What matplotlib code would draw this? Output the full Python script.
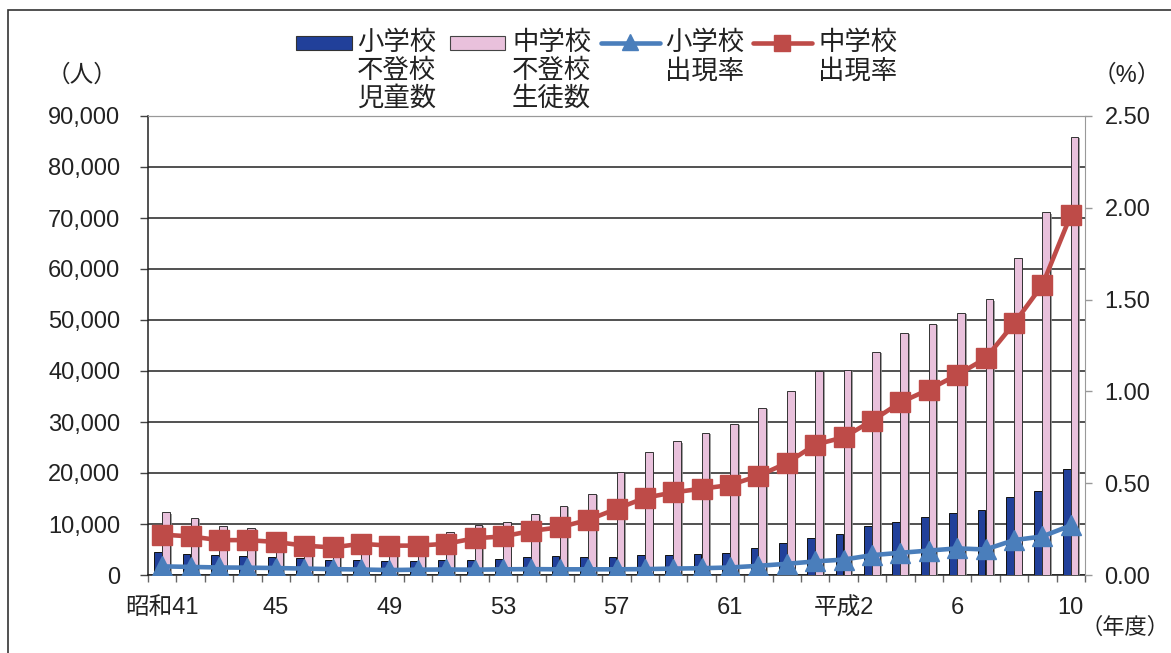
import matplotlib
matplotlib.use("Agg")
import matplotlib.pyplot as plt
import matplotlib.patheffects as pe
import numpy as np
from matplotlib.patches import Rectangle
from matplotlib.lines import Line2D
from matplotlib.ticker import FuncFormatter, MultipleLocator, FixedLocator

plt.rcParams['font.family'] = ['Liberation Sans', 'Noto Sans CJK JP']

# 年度 (昭和41 ～ 平成10)
tick_idx = [0, 4, 8, 12, 16, 20, 24, 28, 32]
tick_labels = ['昭和41', '45', '49', '53', '57', '61', '平成2', '6', '10']

# 不登校児童生徒数 (人)
elem_count = [4430, 4111, 3875, 3807, 3626, 3292, 3032, 2858, 2651, 2830, 2951,
              2965, 3211, 3434, 3679, 3625, 3624, 3840, 3976, 4071, 4407, 5293,
              6291, 7179, 8014, 9652, 10449, 11469, 12240, 12782, 15314, 16383,
              20724]
mid_count = [12286, 11255, 9631, 9239, 8357, 7522, 7066, 7880, 7310, 7704, 8362,
             9808, 10389, 12002, 13536, 15912, 20165, 24059, 26215, 27926, 29673,
             32725, 36110, 40087, 40223, 43796, 47526, 49212, 51365, 54092, 62228,
             71127, 85942]

# 出現率 (%)
elem_rate = [0.047, 0.044, 0.041, 0.040, 0.038, 0.035, 0.032, 0.030, 0.027, 0.029,
             0.030, 0.029, 0.031, 0.032, 0.031, 0.031, 0.031, 0.032, 0.035, 0.037,
             0.041, 0.050, 0.061, 0.074, 0.084, 0.108, 0.121, 0.133, 0.145, 0.139,
             0.19, 0.21, 0.27]
mid_rate = [0.22, 0.21, 0.19, 0.19, 0.18, 0.16, 0.15, 0.17, 0.16, 0.16, 0.17,
            0.20, 0.21, 0.24, 0.26, 0.30, 0.36, 0.42, 0.45, 0.47, 0.49, 0.54,
            0.61, 0.71, 0.75, 0.84, 0.94, 1.01, 1.09, 1.18, 1.37, 1.58, 1.96]

legend_labels = [['小学校', '不登校', '児童数'],
                 ['中学校', '不登校', '生徒数'],
                 ['小学校', '出現率'],
                 ['中学校', '出現率']]

C_ELEM_BAR = '#21409A'
C_MID_BAR = '#E9C1DC'
C_ELEM_LINE = '#4A7EBB'
C_MID_LINE = '#BE4B48'

W, H = 1171, 653
fig = plt.figure(figsize=(W / 100, H / 100), dpi=100)


def fx(px):
    return px / W


def fy(py):
    return 1 - py / H


# outer frame
fig.add_artist(Rectangle((fx(8), -0.2), 1.2, fy(10) + 0.2, transform=fig.transFigure,
                         fill=False, edgecolor='#333333', lw=1.2))

ax = fig.add_axes([fx(148), fy(575), (1085 - 148) / W, (575 - 116) / H])
x = np.arange(len(elem_count))
bw = 0.27
ax.bar(x - 0.145, elem_count, width=bw, color=C_ELEM_BAR, edgecolor='#111111',
       lw=0.7, zorder=3)
pink = ax.bar(x + 0.135, mid_count, width=bw, color=C_MID_BAR, edgecolor='#333333',
              lw=0.7, zorder=3)
for p in pink:
    p.set_path_effects([pe.SimplePatchShadow(offset=(1.3, -1.0), shadow_rgbFace='#8a8a8a',
                                             alpha=0.8), pe.Normal()])

ax.set_xlim(-0.5, len(elem_count) - 0.5)
ax.set_ylim(0, 90000)
ax.yaxis.set_major_locator(MultipleLocator(10000))
ax.yaxis.set_major_formatter(FuncFormatter(lambda v, _: f'{int(v):,}'))
ax.set_axisbelow(True)
ax.grid(axis='y', color='#222222', lw=1.1)

ax.xaxis.set_major_locator(FixedLocator(tick_idx))
ax.set_xticklabels(tick_labels)
ax.xaxis.set_minor_locator(FixedLocator(np.arange(-0.5, len(elem_count), 1.0)))
ax.tick_params(axis='x', which='major', length=0, pad=16, labelsize=17, colors='#222222')
ax.tick_params(axis='x', which='minor', length=5, width=1.0, color='#666666', direction='out')
ax.tick_params(axis='y', which='major', length=6, width=1.0, color='#444444',
               direction='out', pad=14, labelsize=17, labelcolor='#222222')

for s in ['left', 'bottom']:
    ax.spines[s].set_color('#222222')
    ax.spines[s].set_linewidth(1.1)
ax.spines['top'].set_color('#999999')
ax.spines['right'].set_visible(False)

ax2 = ax.twinx()
ax2.set_ylim(0, 2.5)
ax2.yaxis.set_major_locator(MultipleLocator(0.5))
ax2.yaxis.set_major_formatter(FuncFormatter(lambda v, _: f'{v:.2f}'))
ax2.tick_params(axis='y', length=5, width=1.0, color='#999999', direction='out', pad=9,
                labelsize=17, labelcolor='#222222')
ax2.spines['right'].set_color('#999999')
ax2.spines['top'].set_color('#999999')
ax2.spines['left'].set_visible(False)
ax2.spines['bottom'].set_visible(False)

ax2.plot(x, elem_rate, color=C_ELEM_LINE, lw=3.3, marker='^', ms=15,
         mfc=C_ELEM_LINE, mec=C_ELEM_LINE, zorder=3)
ax2.plot(x, mid_rate, color=C_MID_LINE, lw=3.3, marker='s', ms=14,
         mfc=C_MID_LINE, mec=C_MID_LINE, zorder=4)

# unit labels
fig.text(fx(82), fy(76), '（人）', ha='center', va='center', fontsize=17, color='#222222')
fig.text(fx(1127), fy(76), '（%）', ha='center', va='center', fontsize=17, color='#222222')
fig.text(fx(1169), fy(628), '（年度）', ha='right', va='center', fontsize=16, color='#222222')

# legend
hy = 43
fig.add_artist(Rectangle((fx(296), fy(50)), fx(352) - fx(296), 14 / H, transform=fig.transFigure,
                         facecolor=C_ELEM_BAR, edgecolor='#333333', lw=0.8))
fig.add_artist(Rectangle((fx(450), fy(50)), fx(505) - fx(450), 14 / H, transform=fig.transFigure,
                         facecolor=C_MID_BAR, edgecolor='#444444', lw=0.8))
fig.add_artist(Line2D([fx(601), fx(660)], [fy(hy), fy(hy)], transform=fig.transFigure,
                      color=C_ELEM_LINE, lw=3.3, solid_capstyle='round'))
fig.add_artist(Line2D([fx(630)], [fy(hy - 1)], transform=fig.transFigure, marker='^', ms=12,
                      color=C_ELEM_LINE))
fig.add_artist(Line2D([fx(753), fx(812)], [fy(hy), fy(hy)], transform=fig.transFigure,
                      color=C_MID_LINE, lw=3.3, solid_capstyle='round'))
fig.add_artist(Line2D([fx(782)], [fy(hy)], transform=fig.transFigure, marker='s', ms=11,
                      color=C_MID_LINE))

text_x = [357, 512, 665, 818]
line_y = [43, 71, 98]
for tx, lines in zip(text_x, legend_labels):
    for ly, s in zip(line_y, lines):
        fig.text(fx(tx), fy(ly), s, ha='left', va='center', fontsize=19, color='#222222')

fig.savefig('out.png', dpi=100)
